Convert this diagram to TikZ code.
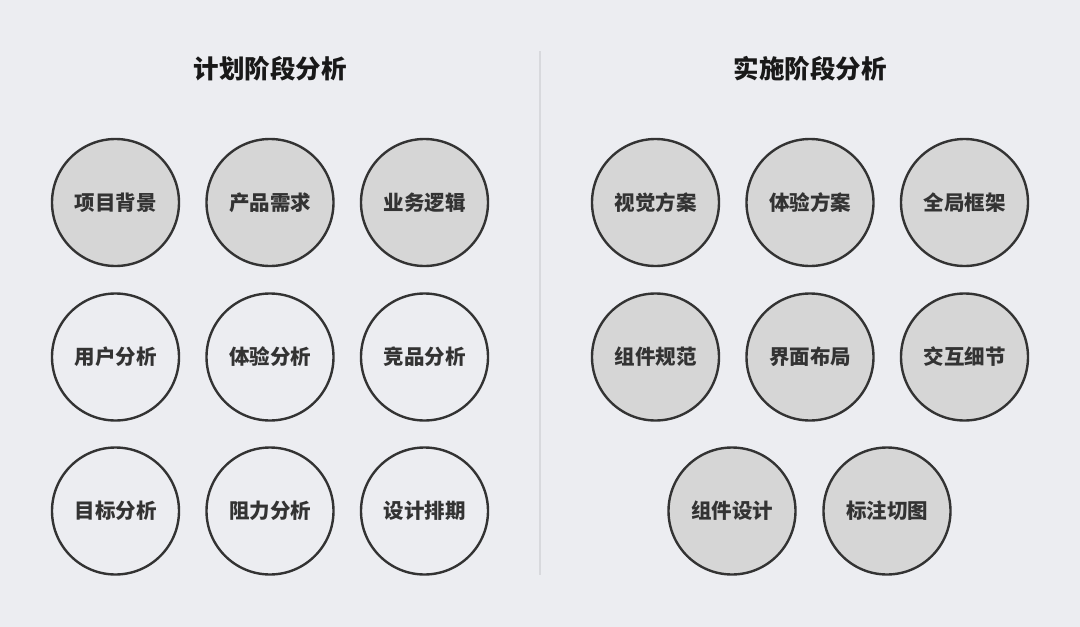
\documentclass[tikz,border=0pt]{standalone}
\usepackage{fontspec}
\setmainfont{Noto Sans CJK SC Black}
\definecolor{bg}{HTML}{ECEDF1}
\definecolor{ring}{HTML}{333333}
\definecolor{fillg}{HTML}{D6D6D6}
\definecolor{divc}{HTML}{D8D9DD}
\definecolor{txt}{HTML}{333333}
\tikzset{
  bubble/.style={circle, draw=ring, line width=2.4pt, minimum size=127pt, inner sep=0pt,
    text=txt, font=\fontsize{20.5}{24}\selectfont},
  graybubble/.style={bubble, fill=fillg},
  whitebubble/.style={bubble, fill=bg},
  heading/.style={text=black!90, font=\fontsize{25.5}{30}\selectfont, inner sep=0pt},
  divider/.style={draw=divc, line width=1.6pt}
}
\begin{document}
\begin{tikzpicture}[x=1pt,y=1pt]
\fill[bg] (0,0) rectangle (1080,-627);
\useasboundingbox (0,0) rectangle (1080,-627);
\coordinate (dtop) at (540,-51);
\coordinate (dbot) at (540,-575);
\draw[divider] (dtop) -- (dbot);
\node[heading] (t1) at (270,-69) {计划阶段分析};
\node[heading] (t2) at (810,-69) {实施阶段分析};
% left
\node[graybubble] (a1) at (115.5,-202.5) {项目背景};
\node[graybubble] (a2) at (270,-202.5) {产品需求};
\node[graybubble] (a3) at (424.5,-202.5) {业务逻辑};
\node[whitebubble] (b1) at (115.5,-357) {用户分析};
\node[whitebubble] (b2) at (270,-357) {体验分析};
\node[whitebubble] (b3) at (424.5,-357) {竞品分析};
\node[whitebubble] (c1) at (115.5,-511) {目标分析};
\node[whitebubble] (c2) at (270,-511) {阻力分析};
\node[whitebubble] (c3) at (424.5,-511) {设计排期};
% right
\node[graybubble] (d1) at (655.5,-202.5) {视觉方案};
\node[graybubble] (d2) at (810,-202.5) {体验方案};
\node[graybubble] (d3) at (964.5,-202.5) {全局框架};
\node[graybubble] (e1) at (655.5,-357) {组件规范};
\node[graybubble] (e2) at (810,-357) {界面布局};
\node[graybubble] (e3) at (964.5,-357) {交互细节};
\node[graybubble] (f1) at (732,-511) {组件设计};
\node[graybubble] (f2) at (887,-511) {标注切图};
\end{tikzpicture}
\end{document}
